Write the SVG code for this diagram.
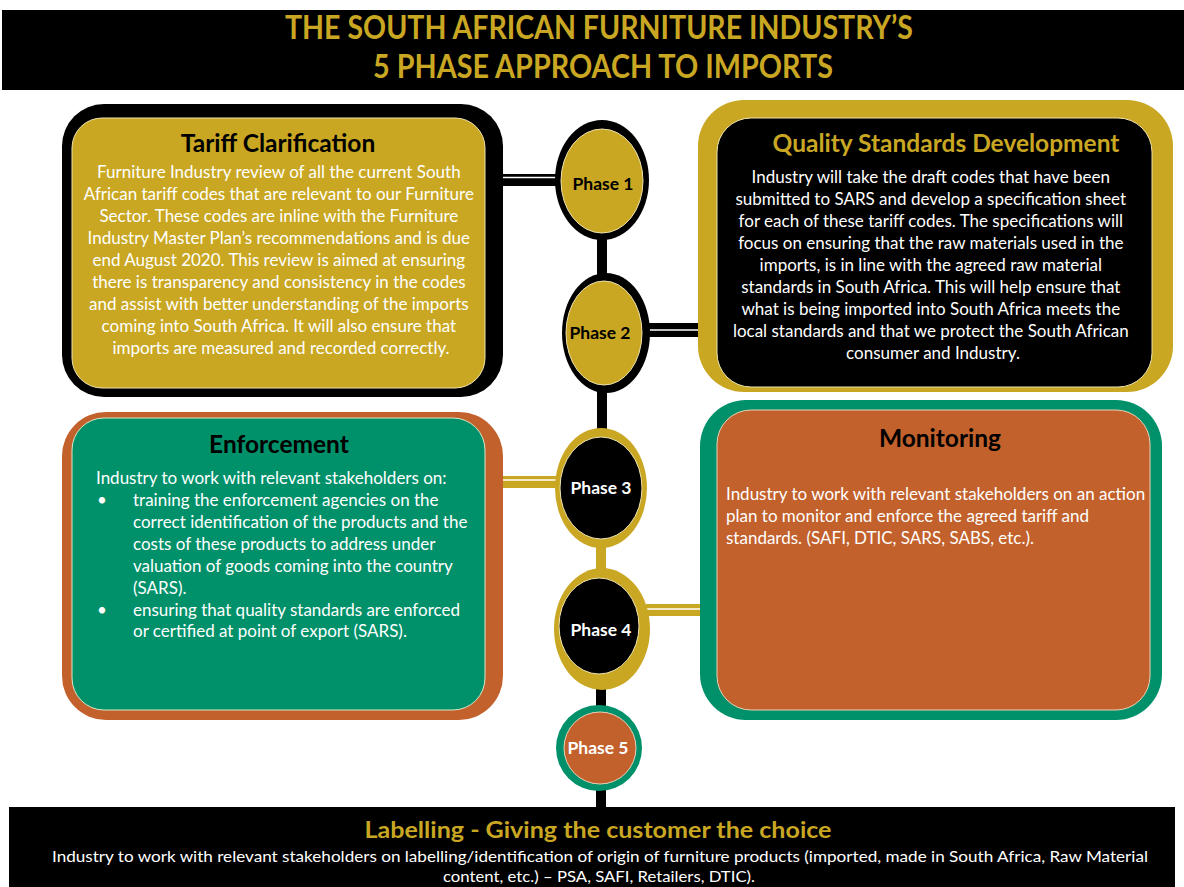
<svg xmlns="http://www.w3.org/2000/svg" width="1184" height="887" viewBox="0 0 1184 887">
<style>
.body{font-family:Lato,"Liberation Sans",sans-serif;font-size:17px;fill:#fff}
.ttl{font-family:Lato,"Liberation Sans",sans-serif;font-size:24.5px;font-weight:bold}
.ph{font-family:Lato,"Liberation Sans",sans-serif;font-size:17.5px;font-weight:bold;text-anchor:middle}
.c{text-anchor:middle}
.band{font-family:Lato,"Liberation Sans",sans-serif;font-weight:bold;fill:#C9A722;text-anchor:middle}
</style>
<rect width="1184" height="887" fill="#fff"/>

<g id="title">
<rect x="2" y="10" width="1182" height="80" fill="#000"/>
<text class="band" x="599" y="39" font-size="33" textLength="628" lengthAdjust="spacingAndGlyphs">THE SOUTH AFRICAN FURNITURE INDUSTRY’S</text>
<text class="band" x="603" y="78" font-size="33" textLength="460" lengthAdjust="spacingAndGlyphs">5 PHASE APPROACH TO IMPORTS</text>
</g>

<g id="connectors">
<rect x="597" y="236" width="10" height="44" fill="#000"/>
<rect x="597" y="390" width="10" height="46" fill="#000"/>
<rect x="596" y="544" width="10" height="30" fill="#C9A722"/>
<rect x="596" y="688" width="10" height="20" fill="#000"/>
<rect x="596" y="790" width="10" height="20" fill="#000"/>
<rect x="493" y="174" width="68" height="12" fill="#000"/>
<line x1="493" y1="177.5" x2="561" y2="177.5" stroke="#fff" stroke-width="1.5"/>
<rect x="648" y="323" width="56" height="14" fill="#000"/>
<line x1="648" y1="330" x2="718" y2="330" stroke="#fff" stroke-width="1.5"/>
<rect x="493" y="476" width="68" height="12" fill="#C9A722"/>
<line x1="493" y1="480" x2="561" y2="480" stroke="#fff" stroke-width="1.5"/>
<rect x="646" y="604" width="64" height="12" fill="#C9A722"/>
<line x1="646" y1="609" x2="712" y2="609" stroke="#fff" stroke-width="1.5"/>
</g>

<g id="tariff">
<rect x="62" y="104" width="441" height="293" rx="42" fill="#000"/>
<rect x="72" y="118" width="413" height="270" rx="30" fill="#C9A722" stroke="#efe3b0" stroke-width="1"/>
<text class="ttl c" x="278" y="152" fill="#000">Tariff Clarification</text>
<text class="body c" x="281">
<tspan x="281" y="178">Furniture Industry review of all the current South</tspan>
<tspan x="281" y="200">African tariff codes that are relevant to our Furniture</tspan>
<tspan x="281" y="222">Sector. These codes are inline with the Furniture</tspan>
<tspan x="281" y="244">Industry Master Plan’s recommendations and is due</tspan>
<tspan x="281" y="266">end August 2020. This review is aimed at ensuring</tspan>
<tspan x="281" y="288">there is transparency and consistency in the codes</tspan>
<tspan x="281" y="310">and assist with better understanding of  the imports</tspan>
<tspan x="281" y="332">coming into South Africa. It will also ensure that</tspan>
<tspan x="281" y="354">imports are measured and recorded correctly.</tspan>
</text>
</g>

<g id="quality">
<rect x="698" y="100" width="475" height="292" rx="46" fill="#C9A722"/>
<rect x="717" y="118" width="435" height="269" rx="34" fill="#000" stroke="#efe3b0" stroke-width="1"/>
<text class="ttl c" x="946" y="152" fill="#C9A722">Quality Standards Development</text>
<text class="body c">
<tspan x="933" y="183">Industry will take the draft codes that have been</tspan>
<tspan x="933" y="205">submitted to SARS and develop a specification sheet</tspan>
<tspan x="933" y="227">for each of these tariff codes. The specifications will</tspan>
<tspan x="933" y="249">focus on ensuring that the raw materials used in the</tspan>
<tspan x="933" y="271">imports, is in line with the agreed raw material</tspan>
<tspan x="933" y="293">standards in South Africa. This will help ensure that</tspan>
<tspan x="933" y="315">what is being imported into South Africa meets the</tspan>
<tspan x="933" y="337">local standards and that we protect the South African</tspan>
<tspan x="933" y="359">consumer and Industry.</tspan>
</text>
</g>

<g id="enforcement">
<rect x="62" y="412" width="441" height="308" rx="44" fill="#C2612C"/>
<rect x="72" y="418" width="413" height="292" rx="32" fill="#00916A" stroke="#d8e8c8" stroke-width="1"/>
<text class="ttl c" x="279" y="453" fill="#000">Enforcement</text>
<text class="body">
<tspan x="96" y="484">Industry to work with relevant stakeholders on:</tspan>
<tspan x="97" y="506">•</tspan><tspan x="133" y="506">training the enforcement agencies on the</tspan>
<tspan x="133" y="528">correct identification of the products and the</tspan>
<tspan x="133" y="550">costs of these products to address under</tspan>
<tspan x="133" y="572">valuation of goods coming into the country</tspan>
<tspan x="133" y="594">(SARS).</tspan>
<tspan x="97" y="616">•</tspan><tspan x="133" y="616">ensuring that quality standards are enforced</tspan>
<tspan x="133" y="637">or certified at point of export (SARS).</tspan>
</text>
</g>

<g id="monitoring">
<rect x="700" y="400" width="462" height="320" rx="46" fill="#00916A"/>
<rect x="717" y="410" width="433" height="300" rx="34" fill="#C2612C" stroke="#ecd0b8" stroke-width="1"/>
<text class="ttl c" x="940" y="447" fill="#000">Monitoring</text>
<text class="body">
<tspan x="726" y="500">Industry to work with relevant stakeholders on an action</tspan>
<tspan x="726" y="522">plan to monitor and enforce the agreed tariff and</tspan>
<tspan x="726" y="544">standards. (SAFI, DTIC, SARS, SABS, etc.).</tspan>
</text>
</g>

<g id="phase1">
<ellipse cx="602" cy="180" rx="47" ry="60" fill="#000"/>
<ellipse cx="602" cy="181" rx="41" ry="52" fill="#C9A722" stroke="#efe3b0" stroke-width="1"/>
<text class="ph" x="603" y="190" fill="#000">Phase 1</text>
</g>
<g id="phase2">
<ellipse cx="606" cy="333" rx="44" ry="60" fill="#000"/>
<ellipse cx="604" cy="333" rx="38" ry="52" fill="#C9A722" stroke="#efe3b0" stroke-width="1"/>
<text class="ph" x="600" y="339" fill="#000">Phase 2</text>
</g>
<g id="phase3">
<ellipse cx="601" cy="488" rx="46" ry="60" fill="#C9A722"/>
<ellipse cx="601" cy="488" rx="41" ry="51" fill="#000" stroke="#efe3b0" stroke-width="1"/>
<text class="ph" x="601" y="494" fill="#fff">Phase 3</text>
</g>
<g id="phase4">
<ellipse cx="602" cy="629" rx="48" ry="61" fill="#C9A722"/>
<ellipse cx="599" cy="626" rx="40" ry="48" fill="#000" stroke="#efe3b0" stroke-width="1"/>
<text class="ph" x="601" y="636" fill="#fff">Phase 4</text>
</g>
<g id="phase5">
<circle cx="599" cy="748" r="43" fill="#00916A"/>
<circle cx="600" cy="748" r="36" fill="#C2612C" stroke="#ecd0b8" stroke-width="1"/>
<text class="ph" x="598" y="754" fill="#fff">Phase 5</text>
</g>

<g id="labelling">
<rect x="9" y="807" width="1166" height="80" fill="#000"/>
<text class="band" x="598" y="838" font-size="23" textLength="467" lengthAdjust="spacingAndGlyphs">Labelling  - Giving the customer the choice</text>
<text x="600" y="862" font-family="Lato,'Liberation Sans',sans-serif" font-size="15" fill="#fff" text-anchor="middle" textLength="1096" lengthAdjust="spacingAndGlyphs">Industry to work with relevant stakeholders on labelling/identification of origin of furniture products (imported, made in South Africa, Raw Material</text>
<text x="599" y="882" font-family="Lato,'Liberation Sans',sans-serif" font-size="15" fill="#fff" text-anchor="middle" textLength="312" lengthAdjust="spacingAndGlyphs">content, etc.) – PSA, SAFI, Retailers, DTIC).</text>
</g>
</svg>
